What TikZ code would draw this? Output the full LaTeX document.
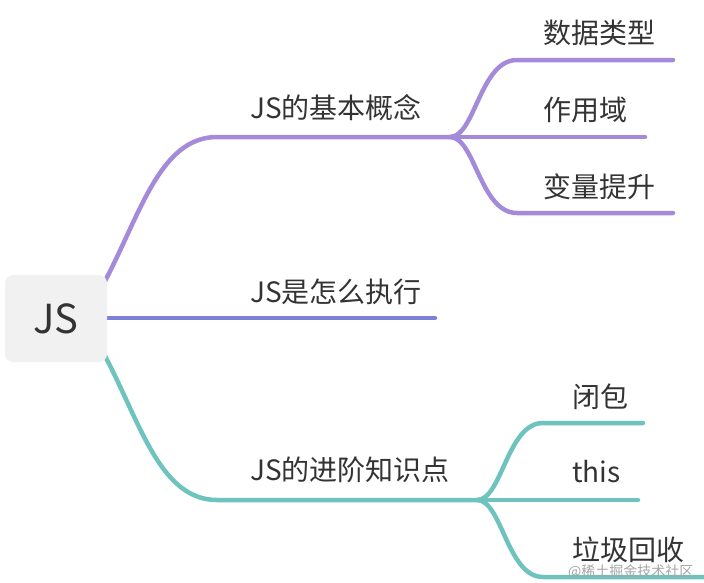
\documentclass[tikz,border=0pt]{standalone}
\usepackage{fontspec}
\usepackage{xcolor}
\usepackage{tikz}
\usetikzlibrary{positioning}
\setmainfont{Noto Sans CJK SC}
\definecolor{purp}{HTML}{A48AD8}
\definecolor{blu}{HTML}{7B80D9}
\definecolor{teal2}{HTML}{6EC3BE}
\definecolor{rootgray}{HTML}{F0F1F0}
\definecolor{txt}{HTML}{333333}

\begin{document}
\begin{tikzpicture}[x=1pt, y=-1pt,
    rootbox/.style={fill=rootgray, rounded corners=8pt, minimum width=102pt, minimum height=87pt, inner sep=0pt, font=\fontsize{40}{48}\selectfont, text=txt},
    lbl/.style={anchor=west, inner sep=0pt, font=\fontsize{28}{34}\selectfont, text=txt},
    wmark/.style={anchor=west, inner sep=0pt, font=\fontsize{14}{16}\selectfont, text=black!35},
    branch/.style={line width=4.5pt, line cap=round}
]
\clip (0,0) rectangle (704,582);
\coordinate (r1) at (105,281);
\coordinate (r2) at (105,318);
\coordinate (r3) at (105,356);
\coordinate (k1) at (450,137);
\coordinate (e2) at (435,318);
\coordinate (k3) at (477,500);
\coordinate (s11) at (673,60);
\coordinate (s12) at (645,137);
\coordinate (s13) at (673,213);
\coordinate (s31) at (643,423);
\coordinate (s32) at (638,500);
\coordinate (s33) at (710,577);
\draw[branch, purp] (r1) .. controls (140,215) and (160,137) .. (217,137) -- (k1);
\draw[branch, blu] (r2) -- (e2);
\draw[branch, teal2] (r3) .. controls (140,422) and (160,500) .. (217,500) -- (k3);
\draw[branch, purp] (k1) .. controls (475,137) and (480,60) .. (517,60) -- (s11);
\draw[branch, purp] (k1) -- (s12);
\draw[branch, purp] (k1) .. controls (475,137) and (480,213) .. (517,213) -- (s13);
\draw[branch, teal2] (k3) .. controls (502,500) and (507,423) .. (543,423) -- (s31);
\draw[branch, teal2] (k3) -- (s32);
\draw[branch, teal2] (k3) .. controls (502,500) and (507,577) .. (543,577) -- (s33);
\node[rootbox] (root) at (56,318.5) {JS};
\node[lbl] (c1) at (250,108) {JS的基本概念};
\node[lbl] (c2) at (250,292) {JS是怎么执行};
\node[lbl] (c3) at (250,470) {JS的进阶知识点};
\node[lbl] (d1) at (543,33) {数据类型};
\node[lbl] (d2) at (543,110) {作用域};
\node[lbl] (d3) at (543,187) {变量提升};
\node[lbl] (f1) at (572,397) {闭包};
\node[lbl] (f2) at (572,472) {this};
\node[lbl] (f3) at (572,550) {垃圾回收};
\node[wmark] (wm) at (568,572) {@稀土掘金技术社区};
\end{tikzpicture}
\end{document}
